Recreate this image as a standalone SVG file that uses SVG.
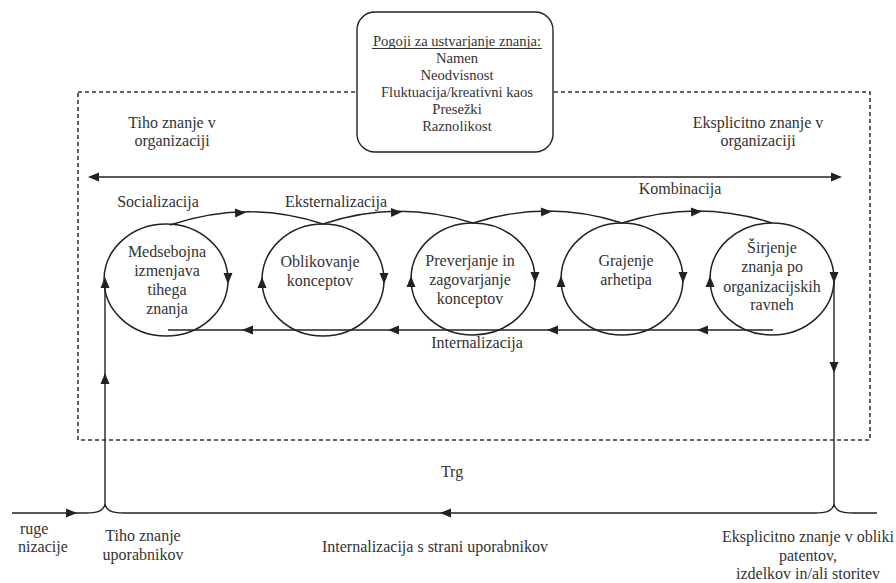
<svg xmlns="http://www.w3.org/2000/svg" xmlns:xlink="http://www.w3.org/1999/xlink" width="896" height="583" viewBox="0 0 896 583" font-family="'Liberation Serif', 'DejaVu Serif', 'Times New Roman', serif">
<style>
  text { font-family: 'Liberation Serif', 'DejaVu Serif', 'Times New Roman', serif; fill: #333; font-size: 16px; text-anchor: middle; }
  .box text { font-size: 14.6px; }
  .ln { fill: none; stroke: #222; stroke-width: 1.4; }
  .dash { fill: none; stroke: #333; stroke-width: 1.6; stroke-dasharray: 4 3; }
  .circ { fill: none; stroke: #222; stroke-width: 1.5; }
  .ah { fill: #222; }
  .start { text-anchor: start; }
</style>
<defs>
  <path id="ah" class="ah" d="M0,0 L-11,-4.5 L-11,4.5 Z"/>
</defs>
<rect width="896" height="583" fill="#fff"/>

<!-- organisation boundary -->
<rect id="org-boundary" class="dash" x="78" y="92" width="792" height="348"/>

<g id="conditions" class="box">
  <rect x="357" y="12" width="196" height="140" rx="18" fill="#fff" stroke="#222" stroke-width="1.4"/>
  <text x="457" y="46">Pogoji za ustvarjanje znanja:</text>
  <line x1="372" y1="48.5" x2="542" y2="48.5" stroke="#333" stroke-width="1"/>
  <text x="457" y="63">Namen</text>
  <text x="457" y="80">Neodvisnost</text>
  <text x="457" y="97">Fluktuacija/kreativni kaos</text>
  <text x="457" y="114">Presežki</text>
  <text x="457" y="131">Raznolikost</text>
</g>

<g id="tacit-org">
  <text x="172" y="128">Tiho znanje v</text>
  <text x="172" y="146">organizaciji</text>
</g>
<g id="explicit-org">
  <text x="758" y="128">Eksplicitno znanje v</text>
  <text x="758" y="146">organizaciji</text>
</g>

<g id="c1">
  <ellipse class="circ" cx="166" cy="280" rx="62" ry="56"/>
  <text x="167" y="257">Medsebojna</text>
  <text x="167" y="276">izmenjava</text>
  <text x="167" y="295">tihega</text>
  <text x="167" y="314">znanja</text>
</g>
<g id="c2">
  <ellipse class="circ" cx="323" cy="280" rx="61" ry="56"/>
  <text x="320" y="267">Oblikovanje</text>
  <text x="320" y="286">konceptov</text>
</g>
<g id="c3">
  <ellipse class="circ" cx="473" cy="279" rx="62" ry="56"/>
  <text x="470" y="266">Preverjanje in</text>
  <text x="470" y="285">zagovarjanje</text>
  <text x="470" y="304">konceptov</text>
</g>
<g id="c4">
  <ellipse class="circ" cx="622" cy="279" rx="61" ry="56"/>
  <text x="626" y="266">Grajenje</text>
  <text x="626" y="285">arhetipa</text>
</g>
<g id="c5">
  <ellipse class="circ" cx="772" cy="279" rx="62" ry="56"/>
  <text x="772" y="253">Širjenje</text>
  <text x="772" y="272">znanja po</text>
  <text x="772" y="292">organizacijskih</text>
  <text x="772" y="310">ravneh</text>
</g>

<g id="labels">
  <text x="158" y="207">Socializacija</text>
  <text x="336" y="207">Eksternalizacija</text>
  <text x="680" y="194">Kombinacija</text>
  <text x="477" y="348">Internalizacija</text>
  <text x="452" y="477">Trg</text>
  <text x="435" y="552">Internalizacija s strani uporabnikov</text>
  <text class="start" x="20" y="534">ruge</text>
  <text class="start" x="18" y="552">nizacije</text>
  <text x="143" y="541">Tiho znanje</text>
  <text x="143" y="560">uporabnikov</text>
  <text x="808" y="542">Eksplicitno znanje v obliki</text>
  <text x="808" y="561">patentov,</text>
  <text x="808" y="579">izdelkov in/ali storitev</text>
</g>

<g id="connectors">
  <!-- tacit <-> explicit axis -->
  <line class="ln" x1="90" y1="177" x2="838" y2="177"/>
  <use xlink:href="#ah" transform="translate(88,177) rotate(180)"/>
  <use xlink:href="#ah" transform="translate(842,177)"/>

  <!-- bridges between circles -->
  <path class="ln" d="M170 225 Q247 199 323 224"/>
  <path class="ln" d="M323 224 Q397 199 473 223"/>
  <path class="ln" d="M473 223 Q548 199 622 223"/>
  <path class="ln" d="M622 223 Q697 199 772 223"/>
  <use xlink:href="#ah" transform="translate(246,212.5) rotate(-2)"/>
  <use xlink:href="#ah" transform="translate(402,212) rotate(-2)"/>
  <use xlink:href="#ah" transform="translate(552,211.5) rotate(-2)"/>
  <use xlink:href="#ah" transform="translate(702,211.5) rotate(-2)"/>

  <!-- circle direction arrows -->
  <use xlink:href="#ah" transform="translate(228,284) rotate(90)"/>
  <use xlink:href="#ah" transform="translate(384,284) rotate(90)"/>
  <use xlink:href="#ah" transform="translate(535,283) rotate(90)"/>
  <use xlink:href="#ah" transform="translate(683,283) rotate(90)"/>
  <use xlink:href="#ah" transform="translate(834,283) rotate(90)"/>
  <use xlink:href="#ah" transform="translate(105,277) rotate(-90)"/>
  <use xlink:href="#ah" transform="translate(262,277) rotate(-90)"/>
  <use xlink:href="#ah" transform="translate(411,276) rotate(-90)"/>
  <use xlink:href="#ah" transform="translate(561,276) rotate(-90)"/>
  <use xlink:href="#ah" transform="translate(710,276) rotate(-90)"/>

  <!-- internalisation return line -->
  <line class="ln" x1="168" y1="330" x2="773" y2="330"/>
  <use xlink:href="#ah" transform="translate(242,330) rotate(180)"/>
  <use xlink:href="#ah" transform="translate(388,330) rotate(180)"/>
  <use xlink:href="#ah" transform="translate(547,330) rotate(180)"/>
  <use xlink:href="#ah" transform="translate(697,330) rotate(180)"/>

  <!-- vertical links to market -->
  <line class="ln" x1="105" y1="506" x2="105" y2="281"/>
  <use xlink:href="#ah" transform="translate(105,373) rotate(-90)"/>
  <line class="ln" x1="834" y1="281" x2="834" y2="506"/>
  <use xlink:href="#ah" transform="translate(834,373) rotate(90)"/>

  <!-- market line -->
  <path class="ln" d="M12 513 H86 C96 513 102 512 105 505 C108 512 114 513 124 513 H815 C825 513 831 512 834 505 C837 512 843 513 853 513 H877"/>
  <use xlink:href="#ah" transform="translate(77,513)"/>
  <use xlink:href="#ah" transform="translate(440,513) rotate(180)"/>
</g>
</svg>
